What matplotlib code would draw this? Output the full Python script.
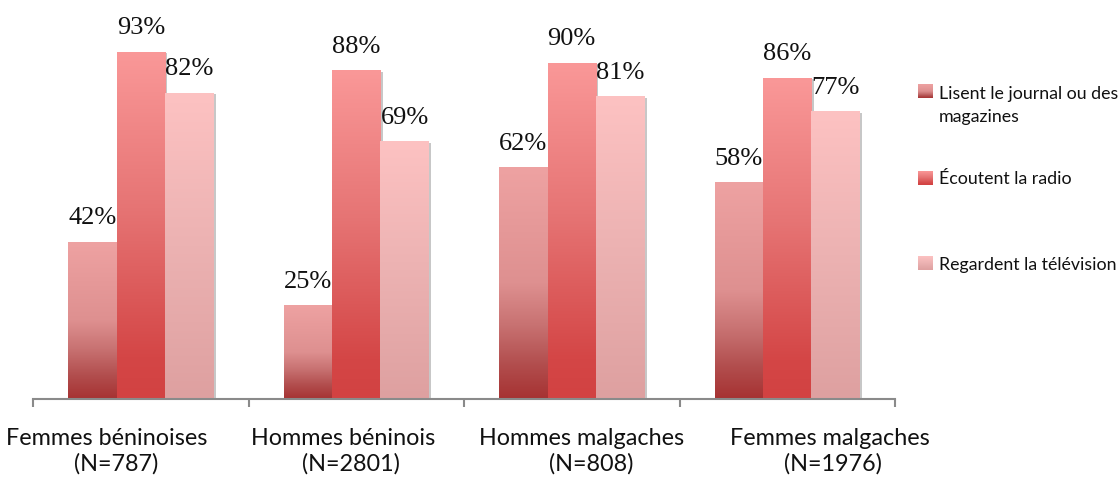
import numpy as np
import matplotlib
matplotlib.use("Agg")
import matplotlib.pyplot as plt
from matplotlib.colors import LinearSegmentedColormap
import matplotlib.patheffects as pe

# ---------------- data ----------------
categories_line1 = ["Femmes béninoises", "Hommes béninois", "Hommes malgaches", "Femmes malgaches"]
categories_line2 = ["(N=787)", "(N=2801)", "(N=808)", "(N=1976)"]
series_names = [["Lisent le journal ou des", "magazines"], ["Écoutent la radio"], ["Regardent la télévision"]]
journal = [42, 25, 62, 58]
radio = [93, 88, 90, 86]
television = [82, 69, 81, 77]
series_values = [journal, radio, television]

# ---------------- style ----------------
gradients = [
    [(0.0, "#A63232"), (0.15, "#B24E4E"), (0.32, "#C87272"), (0.5, "#DE9090"), (1.0, "#EEA2A2")],
    [(0.0, "#D24242"), (0.12, "#D44646"), (0.55, "#E67474"), (1.0, "#FA9898")],
    [(0.0, "#DEA0A0"), (0.5, "#ECB2B2"), (1.0, "#FDC2C2")],
]
cmaps = [LinearSegmentedColormap.from_list(f"g{i}", g) for i, g in enumerate(gradients)]
# horizontal offsets of the two-line category labels (in category units)
label1_shift = [-0.158, -0.063, 0.046, 0.197]
label2_shift = [-0.116, -0.026, 0.088, 0.211]

W, H = 1118, 478
fig = plt.figure(figsize=(W / 100, H / 100), dpi=100)
ax = fig.add_axes([33 / W, 0.1663, (895 - 33) / W, 0.9467 - 0.1663])

n = len(categories_line1)
x = np.arange(n)
bw = 0.224
grad = np.linspace(0, 1, 256).reshape(-1, 1)

for s, vals in enumerate(series_values):
    bars = ax.bar(x + (s - 1) * bw, vals, width=bw, color=cmaps[s](0.5), linewidth=0, zorder=1,
                  path_effects=[pe.SimplePatchShadow(offset=(1.8, -1.2), shadow_rgbFace="#000000", alpha=0.22),
                                pe.Normal()])
    for b, v in zip(bars, vals):
        x0, y0 = b.get_x(), b.get_y()
        im = ax.imshow(grad, cmap=cmaps[s], origin="lower", aspect="auto",
                       extent=[x0, x0 + b.get_width(), y0, y0 + b.get_height()],
                       zorder=1.5, interpolation="bicubic")
        im.set_clip_path(b)
        ax.annotate(f"{v}%", (x0 + b.get_width() / 2, v), xytext=(0, 12.5),
                    textcoords="offset points", ha="center", va="baseline",
                    fontsize=19, family="Liberation Serif", color="#111111", zorder=3)

ax.set_xlim(-0.5, n - 0.5)
ax.set_ylim(0, 100)
for sp in ["top", "left", "right"]:
    ax.spines[sp].set_visible(False)
ax.spines["bottom"].set_color("#8a8a8a")
ax.spines["bottom"].set_linewidth(1.5)
ax.set_yticks([])
ax.set_xticks(np.arange(-0.5, n, 1.0))
ax.set_xticklabels([])
ax.tick_params(axis="x", length=6, width=1.5, color="#8a8a8a", direction="out")

for i in range(n):
    ax.text(i + label1_shift[i], -12.5, categories_line1[i], ha="center", va="baseline",
            fontsize=16.8, family="Lato", color="#111111", clip_on=False)
    ax.text(i + label2_shift[i], -19.2, categories_line2[i], ha="center", va="baseline",
            fontsize=16.8, family="Lato", color="#111111", clip_on=False)

# ---------------- legend ----------------
lax = fig.add_axes([0, 0, 1, 1])
lax.set_xlim(0, W)
lax.set_ylim(H, 0)
lax.axis("off")
key_top = [84, 171, 256]
baselines = [99, 184, 270]
for s in range(3):
    lax.imshow(grad, cmap=cmaps[s], origin="lower", aspect="auto",
               extent=[918, 933, key_top[s] + 14, key_top[s]], interpolation="bicubic")
    for j, line in enumerate(series_names[s]):
        lax.text(939, baselines[s] + 23 * j, line, ha="left", va="baseline", fontsize=12.8,
                 family="Lato", color="#111111")

fig.savefig("out.png", dpi=100)
